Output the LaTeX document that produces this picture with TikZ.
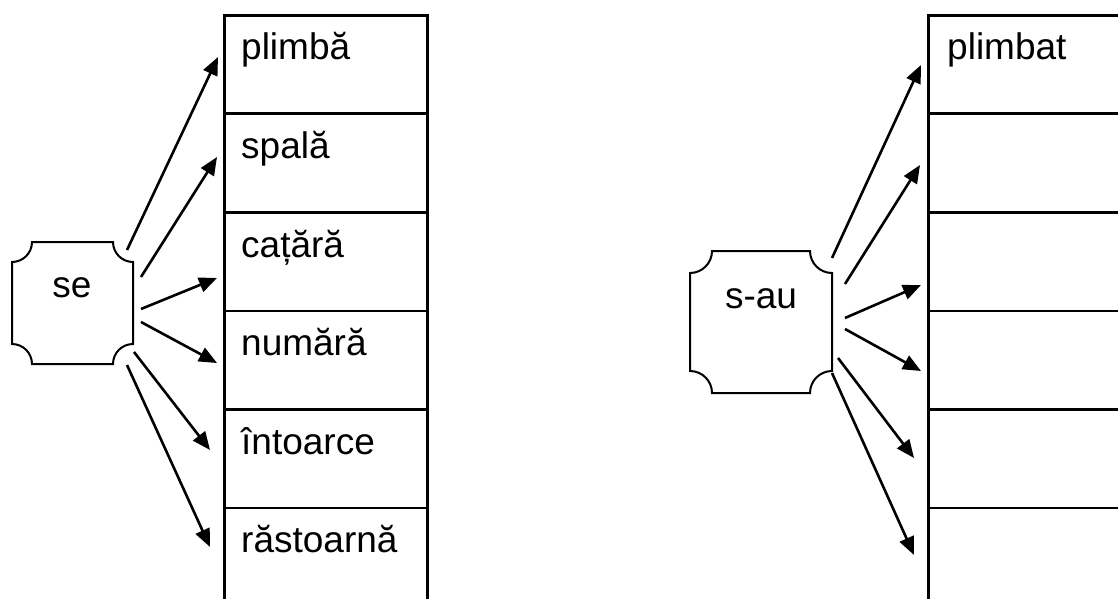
\documentclass[tikz,border=0pt]{standalone}
\usepackage{fontspec}
\setmainfont{Liberation Sans}
\usetikzlibrary{arrows.meta}
\newcommand\plaquepath[5]{% L R T B r (y already negative)
  \draw[plaque] (#1,#3-#5) arc[start angle=-90,end angle=0,radius=#5pt]
    -- (#2-#5,#3) arc[start angle=180,end angle=270,radius=#5pt]
    -- (#2,#4+#5) arc[start angle=90,end angle=180,radius=#5pt]
    -- (#1+#5,#4) arc[start angle=0,end angle=90,radius=#5pt] -- cycle;}
\begin{document}
\begin{tikzpicture}[x=1pt,y=1pt,
  cellbox/.style={draw, line width=2.6pt, rectangle, inner sep=0pt, anchor=north west},
  lcell/.style={cellbox, minimum width=203pt, minimum height=98.5pt},
  rcell/.style={cellbox, minimum width=230pt, minimum height=98.5pt},
  word/.style={inner sep=0pt, anchor=base west, font=\fontsize{37}{44}\selectfont},
  plaque/.style={line width=2pt, line join=miter},
  lbl/.style={inner sep=0pt, anchor=base, font=\fontsize{37}{44}\selectfont},
  arr/.style={line width=2.6pt, -{Triangle[length=18pt,width=15pt]}}]
\useasboundingbox (0,0) rectangle (1118,-599);
\clip (0,0) rectangle (1118,-599);

% left table
\node[lcell] (c1) at (223,-14) {};
\node[lcell] (c2) at (223,-112.5) {};
\node[lcell] (c3) at (223,-211) {};
\node[lcell] (c4) at (223,-309.5) {};
\node[lcell] (c5) at (223,-408) {};
\node[lcell] (c6) at (223,-506.5) {};
\node[word] (w1) at (241,-60) {plimbă};
\node[word] (w2) at (241,-158.5) {spală};
\node[word] (w3) at (241,-257) {cațără};
\node[word] (w4) at (241,-355.5) {numără};
\node[word] (w5) at (241,-454) {întoarce};
\node[word] (w6) at (241,-552.5) {răstoarnă};

% right table
\node[rcell] (d1) at (927,-14) {};
\node[rcell] (d2) at (927,-112.5) {};
\node[rcell] (d3) at (927,-211) {};
\node[rcell] (d4) at (927,-309.5) {};
\node[rcell] (d5) at (927,-408) {};
\node[rcell] (d6) at (927,-506.5) {};
\node[word] (v1) at (947,-60) {plimbat};

% plaques
\plaquepath{12}{133}{-242}{-364}{20}
\node[lbl] (se) at (72,-297) {se};
\plaquepath{690}{832}{-251}{-393}{22}
\node[lbl] (sau) at (761,-308) {s-au};

% arrow end points
\coordinate (sa1) at (127,-250); \coordinate (ta1) at (218,-57);
\coordinate (sa2) at (141,-277); \coordinate (ta2) at (217,-157);
\coordinate (sa3) at (141,-309); \coordinate (ta3) at (217,-278);
\coordinate (sa4) at (141,-322); \coordinate (ta4) at (217,-363);
\coordinate (sa5) at (134,-352); \coordinate (ta5) at (210,-450);
\coordinate (sa6) at (127,-365); \coordinate (ta6) at (210,-547);
\coordinate (sb1) at (832,-258); \coordinate (tb1) at (921,-65);
\coordinate (sb2) at (845,-284); \coordinate (tb2) at (920,-165);
\coordinate (sb3) at (845,-318); \coordinate (tb3) at (921,-285);
\coordinate (sb4) at (845,-329); \coordinate (tb4) at (921,-371);
\coordinate (sb5) at (838,-358); \coordinate (tb5) at (914,-458);
\coordinate (sb6) at (832,-373); \coordinate (tb6) at (914,-555);
\foreach \i in {1,...,6} {
  \draw[arr] (sa\i) -- (ta\i);
  \draw[arr] (sb\i) -- (tb\i);
}
\end{tikzpicture}
\end{document}
